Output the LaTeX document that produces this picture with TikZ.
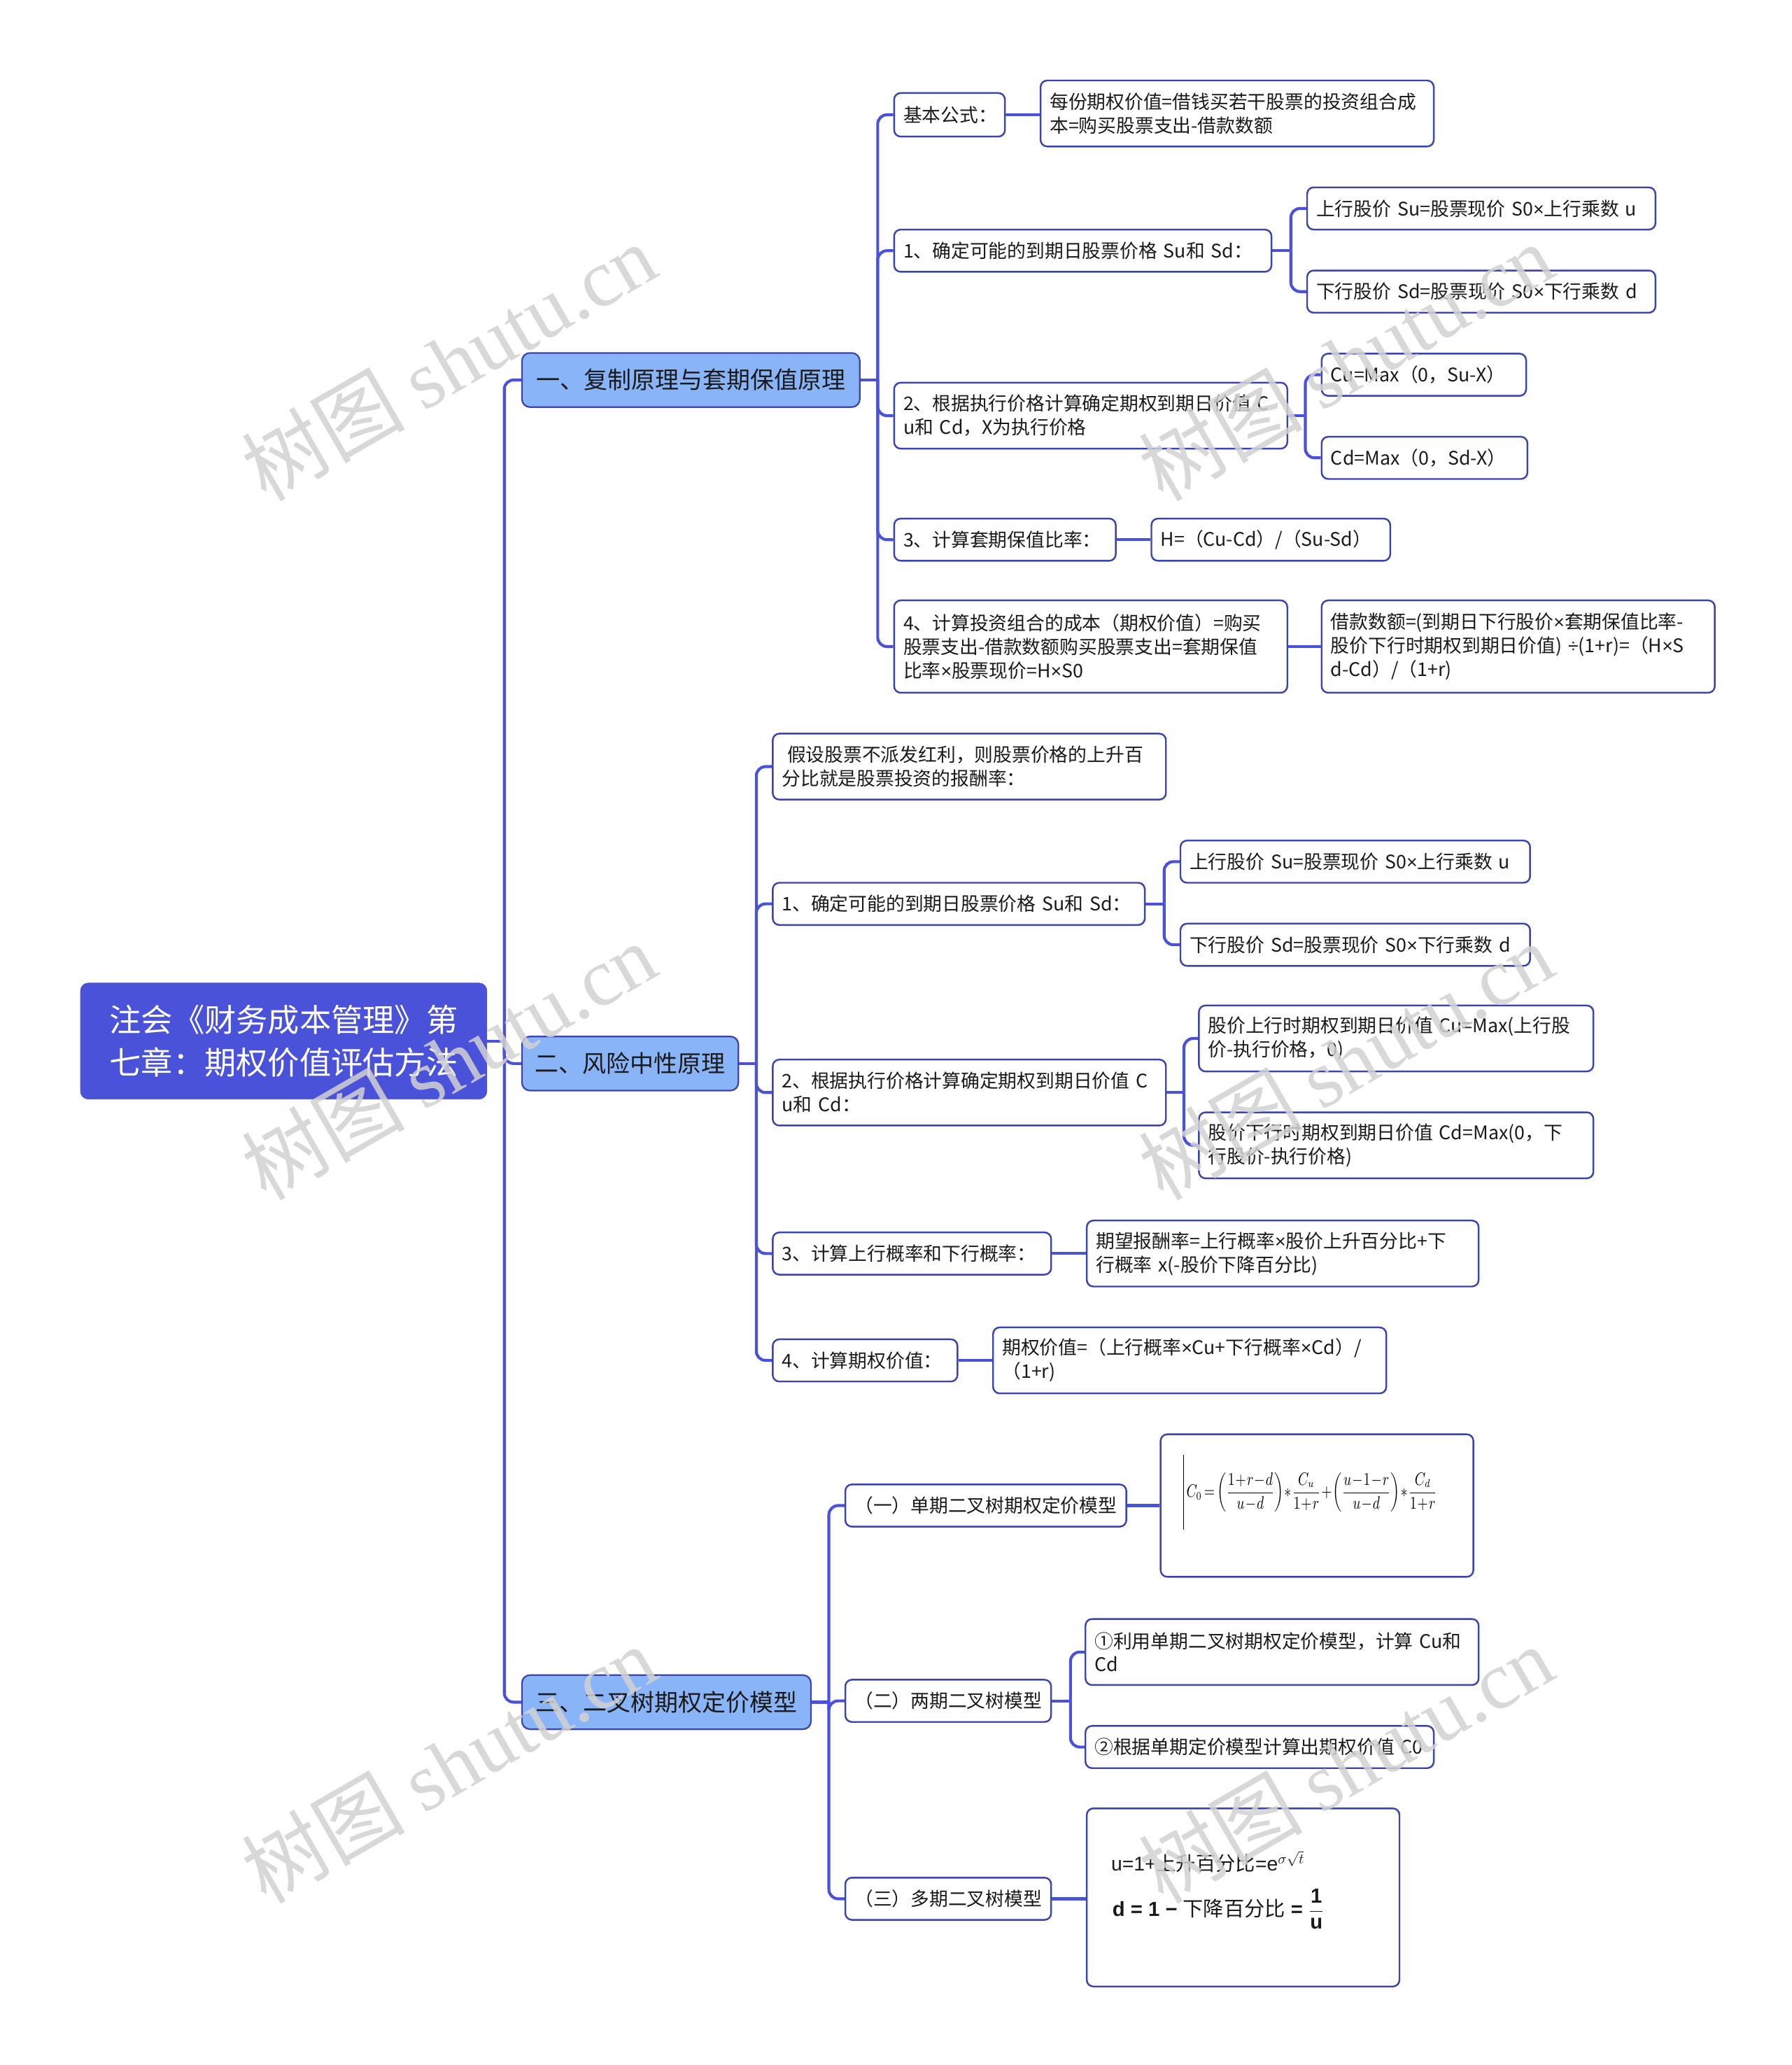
\documentclass[tikz,border=0pt]{standalone}
\usepackage[no-math]{fontspec}
\usepackage{graphicx}
\setmainfont{Noto Sans CJK SC}
\newfontfamily\wmlat{Liberation Serif}
\newfontfamily\lsans{Liberation Sans}
\newcommand{\tms}{{\lsans ×}}
\newcommand{\dvd}{{\lsans ÷}}
\definecolor{rootc}{RGB}{74,82,217}
\definecolor{lonec}{RGB}{138,180,248}
\definecolor{bdr}{RGB}{60,68,176}
\definecolor{connc}{RGB}{74,82,217}
\definecolor{wmc}{RGB}{210,210,210}
\definecolor{txt}{RGB}{26,26,26}
\tikzset{
  link/.style={draw=connc, line width=2.2pt, rounded corners=7pt},
  rootbox/.style={fill=rootc, draw=rootc, rounded corners=6pt, text=white,
    font=\fontsize{24}{32}\selectfont, align=center, inner sep=0pt},
  lonebox/.style={fill=lonec, draw=bdr, line width=1.2pt, rounded corners=6pt,
    text=txt, font=\fontsize{18}{22}\selectfont, anchor=west, inner sep=0pt, minimum height=41pt},
  box/.style={fill=white, draw=bdr, line width=1.3pt, rounded corners=5pt, text=txt,
    font=\fontsize{14.2}{18}\selectfont, anchor=west, align=left, inner xsep=7pt, inner ysep=0pt},
  wm/.style={text=wmc, text opacity=0.85, rotate=30, inner sep=0pt, font=\fontsize{62}{62}\selectfont}
}
\begin{document}
\begin{tikzpicture}[x=1pt,y=-1pt]
\useasboundingbox (0,0) rectangle (1358,1565);
\fill[white] (0,0) rectangle (1358,1565);

% root and level 1
\node[rootbox, minimum width=308pt, minimum height=88pt] (root) at (215,789)
  {注会《财务成本管理》第\\七章：期权价值评估方法};
\node[lonebox, minimum width=256pt] (la) at (395,288) {一、复制原理与套期保值原理};
\node[lonebox, minimum width=164pt] (lb) at (395,806) {二、风险中性原理};
\node[lonebox, minimum width=219pt] (lc) at (395,1290) {三、二叉树期权定价模型};

% branch one
\node[box, text width=70pt, minimum height=33pt] (a0) at (677,87) {基本公式：};
\node[box, text width=284pt, minimum height=50pt] (a0c) at (788,86)
  {每份期权价值=借钱买若干股票的投资组合成\\本=购买股票支出-借款数额};
\node[box, text width=272pt, minimum height=32pt] (a1) at (677,190) {1、确定可能的到期日股票价格~Su和~Sd：};
\node[box, text width=250pt, minimum height=32pt] (a1u) at (990,158) {上行股价~Su=股票现价~S0\tms 上行乘数~u};
\node[box, text width=250pt, minimum height=32pt] (a1d) at (990,221) {下行股价~Sd=股票现价~S0\tms 下行乘数~d};
\node[box, text width=284pt, minimum height=50pt] (a2) at (677,315)
  {2、根据执行价格计算确定期权到期日价值~C\\u和~Cd，X为执行价格};
\node[box, text width=141pt, minimum height=32pt] (a2u) at (1001,284) {Cu=Max（0，Su-X）};
\node[box, text width=142pt, minimum height=32pt] (a2d) at (1001,347) {Cd=Max（0，Sd-X）};
\node[box, text width=154pt, minimum height=32pt] (a3) at (677,409) {3、计算套期保值比率：};
\node[box, text width=167pt, minimum height=32pt] (a3c) at (872,409) {H=（Cu-Cd）/（Su-Sd）};
\node[box, text width=284pt, minimum height=70pt] (a4) at (677,490)
  {4、计算投资组合的成本（期权价值）=购买\\股票支出-借款数额购买股票支出=套期保值\\比率\tms 股票现价=H\tms S0};
\node[box, text width=284pt, minimum height=70pt] (a4c) at (1001,490)
  {借款数额=(到期日下行股价\tms 套期保值比率-\\股价下行时期权到期日价值)~\dvd(1+r)=（H\tms S\\d-Cd）/（1+r)};

% branch two
\node[box, text width=284pt, minimum height=50pt] (b0) at (585,581)
  {\hspace*{4pt}假设股票不派发红利，则股票价格的上升百\\分比就是股票投资的报酬率：};
\node[box, text width=268pt, minimum height=32pt] (b1) at (585,685) {1、确定可能的到期日股票价格~Su和~Sd：};
\node[box, text width=251pt, minimum height=32pt] (b1u) at (894,653) {上行股价~Su=股票现价~S0\tms 上行乘数~u};
\node[box, text width=251pt, minimum height=32pt] (b1d) at (894,716) {下行股价~Sd=股票现价~S0\tms 下行乘数~d};
\node[box, text width=284pt, minimum height=50pt] (b2) at (585,828)
  {2、根据执行价格计算确定期权到期日价值~C\\u和~Cd：};
\node[box, text width=285pt, minimum height=50pt] (b2u) at (908,787)
  {股价上行时期权到期日价值~Cu=Max(上行股\\价-执行价格，0)};
\node[box, text width=285pt, minimum height=50pt] (b2d) at (908,868)
  {股价下行时期权到期日价值~Cd=Max(0，下\\行股价-执行价格)};
\node[box, text width=197pt, minimum height=32pt] (b3) at (585,950) {3、计算上行概率和下行概率：};
\node[box, text width=283pt, minimum height=50pt] (b3c) at (823,950)
  {期望报酬率=上行概率\tms 股价上升百分比+下\\行概率~x(-股价下降百分比)};
\node[box, text width=126pt, minimum height=32pt] (b4) at (585,1031) {4、计算期权价值：};
\node[box, text width=284pt, minimum height=50pt] (b4c) at (752,1031)
  {期权价值=（上行概率\tms Cu+下行概率\tms Cd）/\\（1+r)};

% branch three
\node[box, text width=199pt, minimum height=32pt] (c1) at (640,1141) {（一）单期二叉树期权定价模型};
\node[box, text width=223pt, minimum height=108pt] (c1c) at (879,1141) {};
\node[anchor=west, inner sep=0pt, font=\fontsize{10.5}{12}\selectfont] (f1) at (899,1131)
  {\scalebox{0.95}[1.24]{\medmuskip=1mu \thickmuskip=3mu
   $\displaystyle C_0=\left(\frac{1+r-d}{u-d}\right)*\frac{C_u}{1+r}+\left(\frac{u-1-r}{u-d}\right)*\frac{C_d}{1+r}$}};
\draw[black, line width=0.9pt] (f1.west |- c1c.north) ++(-2,16) -- ++(0,57);
\node[box, text width=142pt, minimum height=32pt] (c2) at (640,1289) {（二）两期二叉树模型};
\node[box, text width=284pt, minimum height=50pt] (c2a) at (822,1252)
  {①利用单期二叉树期权定价模型，计算~Cu和\\Cd};
\node[box, text width=250pt, minimum height=32pt] (c2b) at (822,1324) {②根据单期定价模型计算出期权价值~C0};
\node[box, text width=142pt, minimum height=32pt] (c3) at (640,1439) {（三）多期二叉树模型};
\node[box, text width=223pt, minimum height=135pt] (c3c) at (823,1438) {};
\node[anchor=west, inner sep=0pt, text=txt, font=\fontsize{15}{17}\selectfont] (f2) at (842,1411)
  {{\lsans u=1+}上升百分比{\lsans =e}$^{\sigma\sqrt{t}}$};
\node[anchor=west, inner sep=0pt, text=txt, font=\fontsize{15.5}{18}\selectfont] (f3) at (843,1447)
  {{\lsans\bfseries d = 1 − }下降百分比{\lsans\bfseries\ = }$\displaystyle\frac{\mbox{\lsans\bfseries 1}}{\mbox{\lsans\bfseries u}}$};

% connectors
\coordinate (jr) at ([xshift=13pt]root.east);
\draw[link] (root.east) -- (jr);
\foreach \c in {la,lb,lc} \draw[link] (jr) |- (\c.west);

\coordinate (ja) at ([xshift=13pt]la.east);
\draw[link] (la.east) -- (ja);
\foreach \c in {a0,a1,a2,a3,a4} \draw[link] (ja) |- (\c.west);
\draw[link] (a0.east) -- (a0.east -| a0c.west);
\coordinate (ja1) at ([xshift=14pt]a1.east);
\draw[link] (a1.east) -- (ja1);
\foreach \c in {a1u,a1d} \draw[link] (ja1) |- (\c.west);
\coordinate (ja2) at ([xshift=13pt]a2.east);
\draw[link] (a2.east) -- (ja2);
\foreach \c in {a2u,a2d} \draw[link] (ja2) |- (\c.west);
\draw[link] (a3.east) -- (a3.east -| a3c.west);
\draw[link] (a4.east) -- (a4.east -| a4c.west);

\coordinate (jb) at ([xshift=13pt]lb.east);
\draw[link] (lb.east) -- (jb);
\foreach \c in {b0,b1,b2,b3,b4} \draw[link] (jb) |- (\c.west);
\coordinate (jb1) at ([xshift=14pt]b1.east);
\draw[link] (b1.east) -- (jb1);
\foreach \c in {b1u,b1d} \draw[link] (jb1) |- (\c.west);
\coordinate (jb2) at ([xshift=13pt]b2.east);
\draw[link] (b2.east) -- (jb2);
\foreach \c in {b2u,b2d} \draw[link] (jb2) |- (\c.west);
\draw[link] (b3.east) -- (b3.east -| b3c.west);
\draw[link] (b4.east) -- (b4.east -| b4c.west);

\coordinate (jc) at ([xshift=13pt]lc.east);
\draw[link] (lc.east) -- (jc);
\foreach \c in {c1,c2,c3} \draw[link] (jc) |- (\c.west);
\draw[link] (c1.east) -- (c1.east -| c1c.west);
\coordinate (jc2) at ([xshift=14pt]c2.east);
\draw[link] (c2.east) -- (jc2);
\foreach \c in {c2a,c2b} \draw[link] (jc2) |- (\c.west);
\draw[link] (c3.east) -- (c3.east -| c3c.west);

% watermarks
\node[wm] (w1) at (340,274) {树图~{\wmlat shutu.cn}};
\node[wm] (w2) at (340,804) {树图~{\wmlat shutu.cn}};
\node[wm] (w3) at (340,1337) {树图~{\wmlat shutu.cn}};
\node[wm] (w4) at (1020,274) {树图~{\wmlat shutu.cn}};
\node[wm] (w5) at (1020,804) {树图~{\wmlat shutu.cn}};
\node[wm] (w6) at (1020,1337) {树图~{\wmlat shutu.cn}};
\end{tikzpicture}
\end{document}
